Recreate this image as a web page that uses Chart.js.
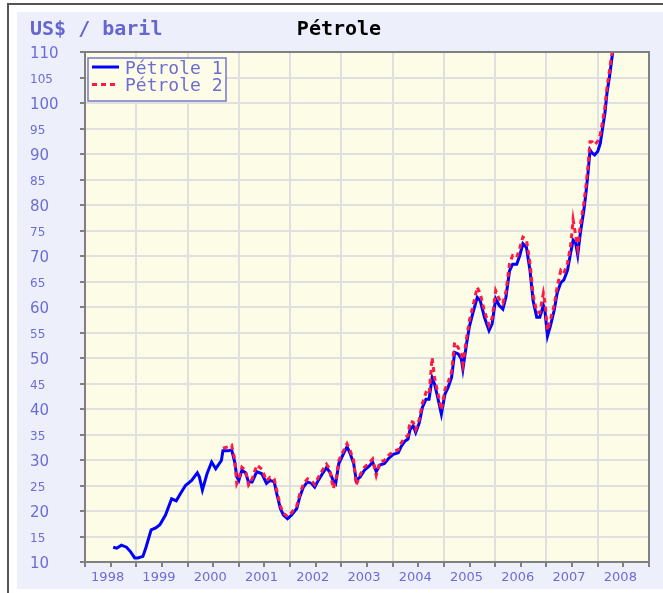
<!DOCTYPE html>
<html>
<head>
<meta charset="utf-8">
<script src="https://cdn.jsdelivr.net/npm/chart.js@4.4.1/dist/chart.umd.min.js"></script>
<style>
  body { margin: 0; background: #fff; overflow: hidden; }
  #cadre { position: absolute; left: 7px; top: 3px; width: 700px; height: 650px; border-left: 2px solid #555; border-top: 2px solid #555; }
  #fond { position: absolute; left: 17px; top: 12px; width: 660px; height: 577px; background: #edf0fa; }
  #graphique { position: absolute; left: 0; top: 0; }
</style>
</head>
<body>
<div id="cadre"></div>
<div id="fond"></div>
<canvas id="graphique" width="663" height="593"></canvas>
<script>
const dates = [
  1998.55, 1998.62, 1998.71, 1998.81, 1998.89, 1998.97, 1999.03, 1999.13, 1999.19, 1999.29,
  1999.38, 1999.46, 1999.57, 1999.69, 1999.78, 1999.86, 1999.96, 2000.08, 2000.19, 2000.23,
  2000.29, 2000.38, 2000.47, 2000.55, 2000.66,
  2000.69, 2000.79, 2000.86, 2000.92, 2000.96, 2001.00, 2001.06, 2001.13, 2001.19, 2001.26,
  2001.35, 2001.45, 2001.54, 2001.61, 2001.69, 2001.74, 2001.81, 2001.87, 2001.95, 2002.03,
  2002.13, 2002.19, 2002.26, 2002.34, 2002.42, 2002.48, 2002.55, 2002.63, 2002.71, 2002.77,
  2002.84, 2002.89, 2002.95, 2003.06, 2003.11, 2003.17, 2003.24, 2003.29, 2003.37, 2003.45,
  2003.54, 2003.61, 2003.68, 2003.75, 2003.84, 2003.92, 2004.01, 2004.11, 2004.17, 2004.24,
  2004.30, 2004.34, 2004.40, 2004.45, 2004.52, 2004.58, 2004.65, 2004.71, 2004.77, 2004.82,
  2004.88, 2004.95, 2005.02, 2005.08, 2005.15, 2005.21, 2005.28, 2005.34, 2005.37, 2005.44,
  2005.50, 2005.57, 2005.65, 2005.71, 2005.79, 2005.88, 2005.94, 2006.01, 2006.08, 2006.15,
  2006.21, 2006.28, 2006.34, 2006.42, 2006.48, 2006.54, 2006.61, 2006.68, 2006.74, 2006.81,
  2006.87, 2006.94, 2006.97, 2007.02, 2007.08, 2007.15, 2007.21, 2007.28, 2007.34, 2007.41,
  2007.47, 2007.52, 2007.57, 2007.61, 2007.66, 2007.73, 2007.77, 2007.81, 2007.85, 2007.89,
  2007.94, 2008.00, 2008.05, 2008.10, 2008.14, 2008.18, 2008.23, 2008.26, 2008.29
];

const petrole1 = [
  12.9, 12.7, 13.3, 12.9, 12.0, 10.8, 10.8, 11.1, 12.9, 16.3,
  16.7, 17.3, 19.2, 22.4, 22.0, 23.4, 25.0, 26.0, 27.5, 26.7,
  24.1, 27.3, 29.6, 28.3, 29.9,
  31.8, 31.8, 32.0, 29.6, 26.7, 26.0, 28.0, 27.5, 25.7, 25.7,
  27.7, 27.3, 25.4, 26.0, 25.7, 23.4, 20.5, 19.2, 18.5, 19.2,
  20.5, 22.8, 24.7, 25.7, 25.4, 24.7, 26.0, 27.3, 28.5, 27.7,
  26.0, 25.4, 29.3, 31.6, 32.6, 31.3, 29.3, 26.0, 26.7, 28.0,
  28.8, 29.6, 27.7, 29.0, 29.3, 30.3, 31.1, 31.4, 32.7, 33.7,
  34.1, 36.0, 36.7, 35.4, 37.3, 40.3, 41.9, 41.9, 46.1, 44.8,
  42.2, 39.0, 42.9, 44.2, 46.2, 51.1, 50.8, 49.8, 47.8, 52.7,
  56.3, 59.0, 61.9, 61.2, 58.0, 55.4, 56.7, 61.6, 60.3, 59.6,
  61.9, 67.1, 68.4, 68.4, 70.1, 72.4, 71.7, 67.1, 61.2, 58.0,
  58.0, 60.3, 59.3, 54.3, 56.4, 59.3, 62.8, 64.8, 65.3, 67.2,
  70.5, 73.1, 72.5, 70.2, 74.4, 79.0, 82.3, 86.2, 90.8, 90.2,
  89.8, 90.5, 92.1, 95.4, 98.0, 101.9, 105.2, 107.5, 109.8
];

const petrole2 = [
  null, null, null, null, null, null, null, null, null, null,
  null, null, null, null, null, null, null, null, null, null,
  null, null, null, null, null,
  32.3, 32.6, 32.9, 30.2, 25.4, 26.3, 28.6, 28.0, 25.1, 26.3,
  29.0, 28.2, 25.9, 26.6, 26.3, 24.0, 21.0, 19.6, 18.9, 19.7,
  21.0, 23.4, 25.3, 26.3, 25.9, 25.2, 26.6, 28.0, 29.2, 28.3,
  24.4, 25.9, 29.9, 32.2, 33.2, 31.9, 29.9, 25.1, 27.2, 28.6,
  29.4, 30.2, 27.0, 29.6, 29.9, 30.9, 31.7, 32.0, 33.4, 34.4,
  34.8, 37.6, 37.4, 36.0, 38.0, 41.1, 43.2, 42.8, 50.1, 46.0,
  43.2, 39.8, 43.8, 45.2, 47.3, 53.1, 52.0, 50.8, 48.8, 53.8,
  57.5, 60.3, 63.9, 62.6, 59.2, 56.4, 57.8, 63.2, 61.5, 60.7,
  63.0, 68.5, 70.1, 69.7, 71.6, 73.7, 73.2, 68.5, 62.4, 59.0,
  58.9, 62.7, 61.0, 55.4, 57.6, 60.3, 64.0, 67.2, 66.6, 68.6,
  71.9, 77.1, 74.0, 71.5, 76.0, 80.4, 83.7, 87.6, 92.4, 92.4,
  91.8, 92.5, 93.8, 96.7, 99.2, 103.0, 106.4, 108.6, 110.5
];

const titreAxe = 'US$ / baril';
const titre = 'Pétrole';
const nomsSeries = ['Pétrole 1', 'Pétrole 2'];

const bleu = '#0000ff';
const rouge = '#ff1a44';
const lavande = '#6c6cd6';

function points(valeurs) {
  return dates.map((d, i) => ({ x: d, y: valeurs[i] }));
}

// fond de la zone de tracé, cadre, titres et légende dans la zone
const decor = {
  id: 'decor',
  beforeDraw(chart) {
    const { ctx, chartArea: a } = chart;
    ctx.save();
    ctx.fillStyle = '#fdfce6';
    ctx.fillRect(a.left, a.top, a.right - a.left, a.bottom - a.top);
    ctx.restore();
  },
  afterDraw(chart) {
    const { ctx, chartArea: a } = chart;
    ctx.save();
    ctx.strokeStyle = '#808080';
    ctx.lineWidth = 2;
    ctx.strokeRect(a.left, a.top, a.right - a.left, a.bottom - a.top);

    ctx.textBaseline = 'middle';
    ctx.font = 'bold 20px "DejaVu Sans Mono"';
    ctx.fillStyle = '#6666d0';
    ctx.textAlign = 'left';
    ctx.fillText(titreAxe, 30, 30);
    ctx.fillStyle = '#000';
    ctx.textAlign = 'center';
    ctx.fillText(titre, 339, 30);

    // légende
    ctx.fillStyle = '#fdfce6';
    ctx.fillRect(88, 58, 138, 43);
    ctx.strokeStyle = '#7777cc';
    ctx.lineWidth = 1.5;
    ctx.strokeRect(88, 58, 138, 43);
    chart.data.datasets.forEach((ds, i) => {
      const y = 67 + i * 17.5;
      ctx.beginPath();
      ctx.strokeStyle = ds.borderColor;
      ctx.lineWidth = 3;
      ctx.setLineDash(ds.borderDash || []);
      ctx.moveTo(92, y);
      ctx.lineTo(119, y);
      ctx.stroke();
      ctx.setLineDash([]);
      ctx.font = '18px "DejaVu Sans Mono"';
      ctx.fillStyle = lavande;
      ctx.textAlign = 'left';
      ctx.fillText(ds.label, 125, y + 2);
    });
    ctx.restore();
  }
};

new Chart(document.getElementById('graphique'), {
  type: 'line',
  data: {
    datasets: [
      { label: nomsSeries[0], data: points(petrole1), borderColor: bleu, borderWidth: 3, order: 1 },
      { label: nomsSeries[1], data: points(petrole2), borderColor: rouge, borderWidth: 3, borderDash: [5, 4], order: 0 }
    ]
  },
  options: {
    responsive: false,
    animation: false,
    layout: { padding: { left: 30, top: 52, right: 14, bottom: 6 } },
    elements: { point: { radius: 0 }, line: { tension: 0 } },
    plugins: { legend: { display: false }, title: { display: false }, tooltip: { enabled: false } },
    scales: {
      x: {
        type: 'linear',
        min: 1998,
        max: 2009,
        afterFit: s => { s.height = 25; },
        border: { color: '#808080', width: 2 },
        grid: {
          color: c => (c.tick && Math.abs(c.tick.value % 1) < 0.01 ? '#e0e0e0' : 'rgba(0,0,0,0)'),
          lineWidth: 2,
          tickColor: '#808080',
          tickLength: 5
        },
        ticks: {
          stepSize: 0.5,
          autoSkip: false,
          maxRotation: 0,
          padding: 3,
          labelOffset: -3,
          color: lavande,
          font: { family: 'DejaVu Sans', size: 13 },
          callback: v => (Math.abs(v % 1 - 0.5) < 0.01 ? String(Math.floor(v)) : '')
        }
      },
      y: {
        min: 10,
        max: 110,
        afterFit: s => { s.width = 55; },
        border: { color: '#808080', width: 2 },
        grid: { color: '#e0e0e0', lineWidth: 2, tickColor: '#808080', tickLength: 5 },
        ticks: {
          stepSize: 5,
          crossAlign: 'far',
          labelOffset: 2,
          color: lavande,
          font: c => ({ family: 'DejaVu Sans', size: c.tick && c.tick.value % 10 === 5 ? 12 : 15 })
        }
      }
    }
  },
  plugins: [decor]
});
</script>
</body>
</html>
